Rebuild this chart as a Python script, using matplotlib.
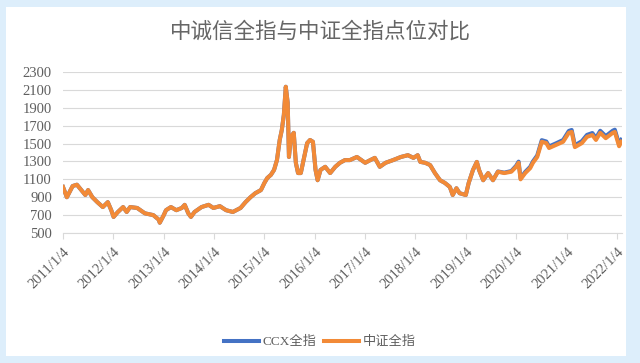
import matplotlib.pyplot as plt
from matplotlib.patches import Rectangle
import pandas as pd

plt.rcParams['font.family'] = ['Liberation Serif', 'Noto Sans CJK SC']

# values (roughly monthly, plus the turning points)
dates = ['2011-01-04', '2011-02-01', '2011-03-15', '2011-04-15', '2011-05-06', '2011-06-15',
         '2011-07-05', '2011-08-05', '2011-09-10', '2011-10-20', '2011-11-25', '2011-12-20',
         '2012-01-06', '2012-02-06', '2012-03-15', '2012-04-10', '2012-05-05', '2012-06-25',
         '2012-08-20', '2012-10-20', '2012-11-28', '2012-12-06', '2013-01-04', '2013-01-20',
         '2013-02-25', '2013-04-05', '2013-05-15', '2013-06-05', '2013-07-01', '2013-07-20',
         '2013-08-15', '2013-10-05', '2013-11-25', '2013-12-30', '2014-02-15', '2014-04-01',
         '2014-05-20', '2014-07-15', '2014-08-20', '2014-09-25', '2014-10-30', '2014-12-10',
         '2015-01-04', '2015-01-25', '2015-02-20', '2015-03-15', '2015-04-05', '2015-04-25',
         '2015-05-10', '2015-05-25', '2015-06-08', '2015-06-22', '2015-07-01', '2015-07-15',
         '2015-08-05', '2015-08-20', '2015-09-05', '2015-09-25', '2015-10-15', '2015-11-10',
         '2015-12-01', '2015-12-22', '2016-01-10', '2016-01-25', '2016-02-15', '2016-03-20',
         '2016-04-25', '2016-06-01', '2016-07-05', '2016-08-10', '2016-09-15', '2016-11-05',
         '2017-01-04', '2017-02-10', '2017-03-15', '2017-04-20', '2017-06-01', '2017-07-25',
         '2017-09-20', '2017-11-10', '2017-12-20', '2018-01-20', '2018-02-08', '2018-03-15',
         '2018-04-20', '2018-05-25', '2018-07-01', '2018-08-05', '2018-09-10', '2018-10-01',
         '2018-10-28', '2018-11-20', '2019-01-04', '2019-01-25', '2019-02-25', '2019-03-25',
         '2019-04-10', '2019-05-10', '2019-06-15', '2019-07-20', '2019-08-25', '2019-10-10',
         '2019-11-30', '2020-01-04', '2020-01-22', '2020-02-05', '2020-03-10', '2020-04-15',
         '2020-05-05', '2020-06-05', '2020-07-08', '2020-08-10', '2020-08-30', '2020-10-20',
         '2020-12-10', '2021-01-20', '2021-02-10', '2021-03-05', '2021-04-25', '2021-06-01',
         '2021-07-10', '2021-08-05', '2021-09-05', '2021-10-15', '2021-12-05', '2021-12-20',
         '2022-01-20', '2022-02-05']

csi = [1015, 900, 1025, 1040, 1000, 925,
       980, 900, 845, 790, 845, 755,
       680, 735, 790, 735, 790, 780,
       720, 700, 650, 615, 700, 755,
       790, 755, 780, 815, 720, 680,
       735, 790, 815, 780, 800, 755,
       735, 780, 845, 900, 945, 980,
       1060, 1115, 1150, 1205, 1315, 1540,
       1650, 1820, 2135, 1955, 1350, 1575,
       1620, 1285, 1170, 1170, 1315, 1505,
       1540, 1520, 1205, 1090, 1205, 1240,
       1170, 1240, 1285, 1315, 1315, 1350,
       1285, 1315, 1340, 1240, 1285, 1315,
       1350, 1370, 1340, 1370, 1295, 1285,
       1260, 1170, 1090, 1060, 1015, 925,
       1000, 945, 925, 1060, 1205, 1295,
       1205, 1090, 1170, 1090, 1185, 1170,
       1185, 1240, 1285, 1100, 1170, 1225,
       1285, 1350, 1520, 1505, 1450, 1485,
       1520, 1620, 1630, 1460, 1505, 1575,
       1595, 1540, 1620, 1560, 1620, 1630,
       1470, 1520]

ccx = [1015, 900, 1025, 1040, 1000, 925,
       980, 900, 845, 790, 845, 755,
       680, 735, 790, 735, 790, 780,
       720, 700, 650, 615, 700, 755,
       790, 755, 780, 815, 720, 680,
       735, 790, 815, 780, 800, 755,
       735, 780, 845, 900, 945, 980,
       1060, 1115, 1150, 1205, 1315, 1540,
       1650, 1820, 2135, 1955, 1350, 1575,
       1620, 1285, 1170, 1170, 1315, 1505,
       1540, 1520, 1205, 1090, 1205, 1240,
       1170, 1240, 1285, 1315, 1315, 1350,
       1285, 1315, 1340, 1240, 1285, 1315,
       1350, 1370, 1340, 1370, 1295, 1285,
       1260, 1170, 1090, 1060, 1015, 925,
       1000, 945, 925, 1060, 1205, 1295,
       1205, 1090, 1170, 1090, 1188, 1175,
       1193, 1252, 1298, 1112, 1183, 1240,
       1300, 1367, 1538, 1523, 1468, 1503,
       1540, 1641, 1652, 1480, 1527, 1597,
       1618, 1562, 1643, 1583, 1644, 1655,
       1492, 1542]

tick_dates = ['2011-01-04', '2012-01-04', '2013-01-04', '2014-01-04', '2015-01-04', '2016-01-04',
              '2017-01-04', '2018-01-04', '2019-01-04', '2020-01-04', '2021-01-04', '2022-01-04']
tick_labels = ['2011/1/4', '2012/1/4', '2013/1/4', '2014/1/4', '2015/1/4', '2016/1/4',
               '2017/1/4', '2018/1/4', '2019/1/4', '2020/1/4', '2021/1/4', '2022/1/4']

x = pd.to_datetime(dates)
grey = '#5f5f5f'

fig = plt.figure(figsize=(6.4, 3.63), dpi=100)
fig.patch.set_facecolor('#ddeefb')
fig.patches.append(Rectangle((6/640, 7/363), 620/640, 349/363, transform=fig.transFigure,
                             facecolor='white', edgecolor='none', zorder=-10))

ax = fig.add_axes([63/640, 1 - 233/363, 559/640, 161/363])
ax.set_facecolor('none')
ax.plot(x, ccx, color='#4472c4', lw=2.9, label='CCX全指', solid_joinstyle='round')
ax.plot(x, csi, color='#f28a37', lw=2.9, label='中证全指', solid_joinstyle='round')

ax.set_ylim(500, 2300)
ax.set_yticks(range(500, 2301, 200))
ax.set_xlim(pd.Timestamp('2011-01-04'), pd.Timestamp('2022-02-10'))
ax.set_xticks(pd.to_datetime(tick_dates))
ax.set_xticklabels(tick_labels, rotation=45, ha='right', rotation_mode='anchor')

ax.grid(axis='y', color='#d9d9d9', lw=0.8)
ax.set_axisbelow(True)
for s in ['top', 'right', 'left']:
    ax.spines[s].set_visible(False)
ax.spines['bottom'].set_color('#d9d9d9')
ax.tick_params(axis='y', length=0, labelsize=10.5, labelcolor=grey, pad=8)
ax.tick_params(axis='x', length=4, color='#d9d9d9', labelsize=10.5, labelcolor=grey, pad=5)

fig.text(0.5, 1 - 32/363, '中诚信全指与中证全指点位对比', ha='center', va='center',
         fontsize=15.5, color='#666666', family=['Noto Sans CJK SC'], fontweight='light')

fig.legend(loc='center', bbox_to_anchor=(0.5, 1 - 342/363), ncol=2, frameon=False,
           fontsize=9.5, labelcolor=grey, handlelength=2.6, handletextpad=0.3, columnspacing=0.6)

fig.savefig('out.png', dpi=100, facecolor=fig.get_facecolor())
